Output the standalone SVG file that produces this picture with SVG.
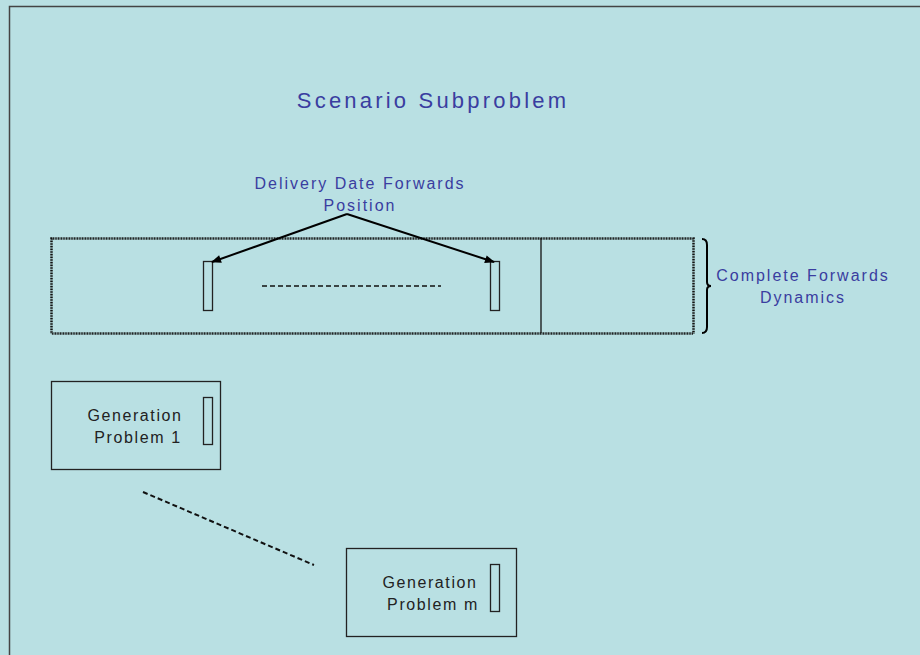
<svg xmlns="http://www.w3.org/2000/svg" width="920" height="655" viewBox="0 0 920 655">
<defs>
<style>
.blue{font-family:"Liberation Sans",Arial,sans-serif;fill:#3A3DA0;text-anchor:middle;letter-spacing:2px}
.dark{font-family:"Liberation Sans",Arial,sans-serif;fill:#222;text-anchor:middle;font-size:16px;letter-spacing:1.6px}
.box{fill:none;stroke:#222;stroke-width:1.3}
</style>
<marker id="ah" viewBox="0 0 10 10" refX="9" refY="5" markerWidth="12" markerHeight="10" orient="auto" markerUnits="userSpaceOnUse">
<path d="M0,1 L10,5 L0,9 z" fill="#000"/>
</marker>
</defs>
<rect x="0" y="0" width="920" height="655" fill="#B9E0E3"/>
<path d="M9.5,655 V6.5 H920" fill="none" stroke="#444" stroke-width="1.5"/>
<text class="blue" x="433" y="108" font-size="22" style="letter-spacing:3.2px">Scenario Subproblem</text>
<g id="forwards">
<rect x="51.5" y="238.5" width="642" height="95" fill="none" stroke="#111" stroke-width="2.5" stroke-dasharray="1 0.6"/>
<line x1="541" y1="238" x2="541" y2="333" stroke="#111" stroke-width="1.3"/>
<line x1="262" y1="286" x2="441" y2="286" stroke="#111" stroke-width="1.5" stroke-dasharray="5 3"/>
</g>
<g id="pos1"><rect class="box" x="203.5" y="261.5" width="9" height="49"/></g>
<g id="pos2"><rect class="box" x="490.5" y="261.5" width="9" height="49"/></g>
<g id="label-delivery">
<text class="blue" x="360" y="189" font-size="16">Delivery Date Forwards</text>
<text class="blue" x="360" y="211" font-size="16">Position</text>
</g>
<g id="brace">
<path d="M702,239 Q707,239 707,245 V282 Q707,286 711,286 Q707,286 707,290 V327 Q707,333 702,333" fill="none" stroke="#000" stroke-width="2"/>
<text class="blue" x="803" y="281" font-size="16">Complete Forwards</text>
<text class="blue" x="803" y="303" font-size="16">Dynamics</text>
</g>
<g id="gen1">
<rect class="box" x="51.5" y="381.5" width="169" height="88"/>
<rect class="box" x="203.5" y="397.5" width="9" height="47"/>
<text class="dark" x="135" y="421">Generation</text>
<text class="dark" x="138" y="443">Problem 1</text>
</g>
<g id="genm">
<rect class="box" x="346.5" y="548.5" width="170" height="88"/>
<rect class="box" x="490.5" y="564.5" width="9" height="47"/>
<text class="dark" x="430" y="588">Generation</text>
<text class="dark" x="433" y="610">Problem m</text>
</g>
<g id="connectors">
<line x1="347" y1="214" x2="212" y2="262" stroke="#000" stroke-width="2" marker-end="url(#ah)"/>
<line x1="347" y1="214" x2="494" y2="262" stroke="#000" stroke-width="2" marker-end="url(#ah)"/>
<line x1="143" y1="492" x2="314" y2="565" stroke="#111" stroke-width="2" stroke-dasharray="5 3"/>
</g>
</svg>
